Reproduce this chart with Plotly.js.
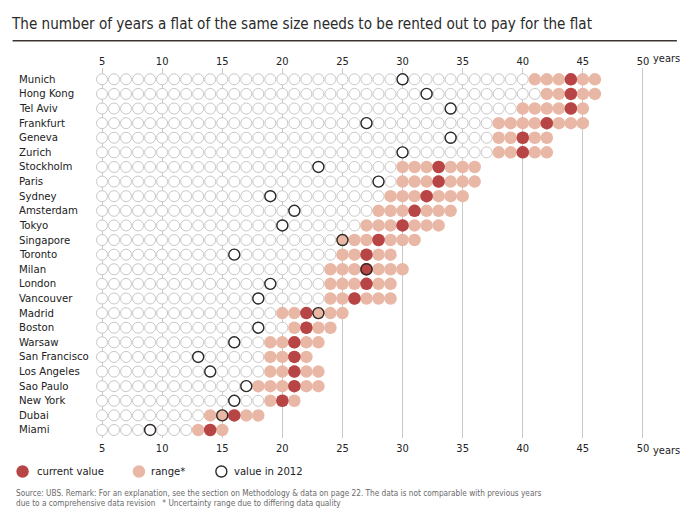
<!DOCTYPE html>
<html>
<head>
<meta charset="utf-8">
<script src="https://cdn.plot.ly/plotly-3.0.1.min.js"></script>
<style>
html,body{margin:0;padding:0;background:#fff;}
#chart{width:691px;height:523px;}
</style>
</head>
<body>
<div id="chart"></div>
<script>
// ---- data ----
const cities = ["Munich","Hong Kong","Tel Aviv","Frankfurt","Geneva","Zurich","Stockholm","Paris","Sydney","Amsterdam","Tokyo","Singapore","Toronto","Milan","London","Vancouver","Madrid","Boston","Warsaw","San Francisco","Los Angeles","Sao Paulo","New York","Dubai","Miami"];
const currentValue = [44,44,44,42,40,40,33,33,32,31,30,28,27,27,27,26,22,22,21,21,21,21,20,16,14];
const rangeLow  = [41,42,40,38,38,38,30,30,29,28,27,25,25,24,24,24,20,21,19,19,19,18,19,14,13];
const rangeHigh = [46,46,45,45,42,42,36,36,35,34,33,31,29,30,29,29,25,24,23,22,23,23,21,18,15];
const value2012 = [30,32,34,27,34,30,23,28,19,21,20,25,16,27,19,18,23,18,16,13,14,17,16,15,9];
const scaleStart = 5;
const tickValues = [5,10,15,20,25,30,35,40,45,50];
const tickLabels = ["5","10","15","20","25","30","35","40","45","50"];

// ---- geometry (pixels) ----
const W = 691, H = 523;
const mL = 89.5, mR = 35.9, mT = 68, mB = 85;
const pw = W - mL - mR, ph = H - mT - mB;
const px2x = p => (p - mL) / pw;
const py2y = p => (H - mB - p) / ph;

const FONT = "'Liberation Sans Narrow', 'DejaVu Sans Condensed', 'Open Sans', sans-serif";
const TXT = "#222";

// build marker lists from data
const emptyX = [], emptyY = [];
const rangeX = [], rangeY = [];
cities.forEach((c, i) => {
  for (let v = scaleStart; v < rangeLow[i]; v++) { emptyX.push(v); emptyY.push(i); }
  for (let v = rangeLow[i]; v <= rangeHigh[i]; v++) { rangeX.push(v); rangeY.push(i); }
});
const rowIdx = cities.map((c, i) => i);

const traces = [
  {x: emptyX, y: emptyY, type: 'scatter', mode: 'markers', hoverinfo: 'skip', showlegend: false,
   marker: {size: 11, color: '#ffffff', line: {color: '#c8c8c8', width: 1}}},
  {x: rangeX, y: rangeY, type: 'scatter', mode: 'markers', hoverinfo: 'skip', showlegend: false,
   marker: {size: 12.5, color: '#e9b7a5', line: {width: 0}}},
  {x: currentValue, y: rowIdx, type: 'scatter', mode: 'markers', showlegend: false,
   marker: {size: 12.5, color: '#b84545', line: {width: 0}}},
  {x: value2012, y: rowIdx, type: 'scatter', mode: 'markers', showlegend: false,
   marker: {size: 11, color: 'rgba(0,0,0,0)', line: {color: '#2e2a28', width: 1.4}}},
  {x: [50], y: [0], xaxis: 'x2', type: 'scatter', mode: 'markers', showlegend: false, hoverinfo: 'skip',
   marker: {size: 1, color: 'rgba(0,0,0,0)'}}
];

const annotations = [];
cities.forEach((c, i) => {
  annotations.push({text: c, xref: 'paper', x: px2x(16.5), xanchor: 'left', yref: 'y', y: i, yanchor: 'middle',
    showarrow: false, font: {family: FONT, size: 11.3, color: TXT}});
});
// "years" after 50 (top & bottom)
annotations.push({text: 'years', xref: 'x', x: 50, xshift: 8, xanchor: 'left', yref: 'paper', y: py2y(58), yanchor: 'middle',
  showarrow: false, font: {family: FONT, size: 11, color: TXT}});
annotations.push({text: 'years', xref: 'x', x: 50, xshift: 8, xanchor: 'left', yref: 'paper', y: py2y(450.2), yanchor: 'middle',
  showarrow: false, font: {family: FONT, size: 11, color: TXT}});
// legend texts
[["current value", 34], ["range*", 149], ["value in 2012", 232]].forEach(t => {
  annotations.push({text: t[0], xref: 'paper', x: px2x(t[1]), xanchor: 'left', yref: 'paper', y: py2y(471.5), yanchor: 'middle',
    showarrow: false, font: {family: FONT, size: 11.2, color: TXT}});
});
// footer
annotations.push({text: "Source: UBS. Remark: For an explanation, see the section on Methodology &amp; data on page 22. The data is not comparable with previous years",
  xref: 'paper', x: px2x(13), xanchor: 'left', yref: 'paper', y: py2y(492.5), yanchor: 'middle', showarrow: false,
  font: {family: FONT, size: 8.2, color: '#6a6a6a'}});
annotations.push({text: "due to a comprehensive data revision   * Uncertainty range due to differing data quality",
  xref: 'paper', x: px2x(13), xanchor: 'left', yref: 'paper', y: py2y(503), yanchor: 'middle', showarrow: false,
  font: {family: FONT, size: 8.2, color: '#6a6a6a'}});

const shapes = [
  {type: 'line', xref: 'paper', yref: 'paper', x0: px2x(12), x1: px2x(677), y0: py2y(40.7), y1: py2y(40.7),
   line: {color: '#3b3431', width: 1.5}},
  // legend markers
  {type: 'circle', xref: 'paper', yref: 'paper', xsizemode: 'pixel', ysizemode: 'pixel',
   xanchor: px2x(22), yanchor: py2y(471.5), x0: -6.2, x1: 6.2, y0: -6.2, y1: 6.2, fillcolor: '#b84545', line: {width: 0}},
  {type: 'circle', xref: 'paper', yref: 'paper', xsizemode: 'pixel', ysizemode: 'pixel',
   xanchor: px2x(138.5), yanchor: py2y(471.5), x0: -6.2, x1: 6.2, y0: -6.2, y1: 6.2, fillcolor: '#e9b7a5', line: {width: 0}},
  {type: 'circle', xref: 'paper', yref: 'paper', xsizemode: 'pixel', ysizemode: 'pixel',
   xanchor: px2x(221), yanchor: py2y(471.5), x0: -5.5, x1: 5.5, y0: -5.5, y1: 5.5, fillcolor: 'rgba(0,0,0,0)', line: {color: '#2e2a28', width: 1.4}}
];

const axisCommon = {
  range: [4, 51], tickmode: 'array', tickvals: tickValues, ticktext: tickLabels,
  ticks: '', showline: false, zeroline: false, fixedrange: true,
  tickfont: {family: FONT, size: 11, color: TXT}
};

const layout = {
  width: W, height: H,
  margin: {l: mL, r: mR, t: mT, b: mB, pad: 0},
  paper_bgcolor: '#ffffff', plot_bgcolor: '#ffffff',
  showlegend: false,
  title: {text: 'The number of years a flat of the same size needs to be rented out to pay for the flat',
    xref: 'container', yref: 'container', x: 12 / W, xanchor: 'left', y: 1 - 24 / H, yanchor: 'middle',
    font: {family: FONT, size: 15.1, color: '#2a2a2a'}},
  xaxis: Object.assign({}, axisCommon, {showgrid: true, gridcolor: '#c9c9c9', gridwidth: 1, side: 'bottom', ticklabelstandoff: 2}),
  xaxis2: Object.assign({}, axisCommon, {overlaying: 'x', side: 'top', showgrid: false, matches: 'x', ticklabelstandoff: 0}),
  yaxis: {range: [24.548, -0.774], showgrid: false, zeroline: false, showticklabels: false, showline: false, fixedrange: true},
  annotations: annotations,
  shapes: shapes
};

Plotly.newPlot('chart', traces, layout, {displayModeBar: false, staticPlot: true});
</script>
</body>
</html>
